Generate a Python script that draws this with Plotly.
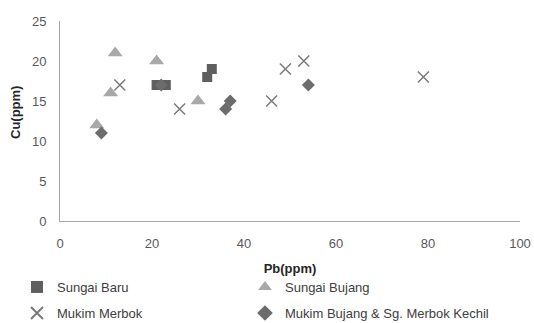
import plotly.graph_objects as go

sb_x = [21, 23, 32, 33]
sb_y = [17, 17, 18, 19]
sbj_x = [12, 21, 11, 8, 30]
sbj_y = [21, 20, 16, 12, 15]
mm_x = [13, 26, 46, 49, 53, 79]
mm_y = [17, 14, 15, 19, 20, 18]
mb_x = [9, 22, 36, 37, 54]
mb_y = [11, 17, 14, 15, 17]

fig = go.Figure()
fig.add_trace(go.Scatter(x=sb_x, y=sb_y, mode="markers", name="Sungai Baru", legend="legend",
                         marker=dict(symbol="square", size=10, color="#5f5f5f")))
fig.add_trace(go.Scatter(x=sbj_x, y=sbj_y, mode="markers", name="Sungai Bujang", legend="legend2",
                         marker=dict(symbol="triangle-up", size=13, color="#a8a8a8")))
fig.add_trace(go.Scatter(x=mm_x, y=mm_y, mode="markers", name="Mukim Merbok", legend="legend3",
                         marker=dict(symbol="x-thin", size=11, color="#7a7a7a",
                                     line=dict(width=1.5, color="#7a7a7a"))))
fig.add_trace(go.Scatter(x=mb_x, y=mb_y, mode="markers", name="Mukim Bujang & Sg. Merbok Kechil",
                         legend="legend4",
                         marker=dict(symbol="diamond", size=10, color="#6c6c6c")))

font = "Liberation Sans"
W, H = 534, 323
L, R, T, B = 60, 14, 21, 102
leg_common = dict(xref="container", yref="container",
                  xanchor="left", yanchor="middle", itemsizing="constant",
                  font=dict(size=13, color="#404040"), bgcolor="rgba(0,0,0,0)")
col1, col2 = 17, 245
row1, row2 = 287, 313
fig.update_layout(
    width=W, height=H,
    margin=dict(l=L, r=R, t=T, b=B, autoexpand=False),
    plot_bgcolor="white", paper_bgcolor="white",
    font=dict(family=font, size=12, color="#595959"),
    xaxis=dict(range=[0, 100], dtick=20, showgrid=False, zeroline=False,
               showline=True, linecolor="#a6a6a6", ticks="", ticklabelstandoff=10,
               tickfont=dict(size=13), automargin=False,
               title=dict(text="<b>Pb(ppm)</b>", font=dict(size=13, color="#262626"), standoff=14)),
    yaxis=dict(range=[0, 25], dtick=5, showgrid=False, zeroline=False,
               showline=True, linecolor="#a6a6a6", ticks="", ticklabelstandoff=10,
               tickfont=dict(size=13), automargin=False),
    legend=dict(x=col1 / W, y=1 - row1 / H, **leg_common),
    legend2=dict(x=col2 / W, y=1 - row1 / H, **leg_common),
    legend3=dict(x=col1 / W, y=1 - row2 / H, **leg_common),
    legend4=dict(x=col2 / W, y=1 - row2 / H, **leg_common),
    showlegend=True,
    annotations=[dict(text="<b>Cu(ppm)</b>", textangle=-90, showarrow=False,
                      xref="paper", yref="paper",
                      x=(15 - L) / (W - L - R), y=(H - B - 113) / (H - B - T),
                      xanchor="center", yanchor="middle",
                      font=dict(size=13, color="#262626"))],
)
fig.write_html("out.html", config={"displayModeBar": False},
               post_script="document.body.style.margin='0';document.body.style.overflow='hidden';")
